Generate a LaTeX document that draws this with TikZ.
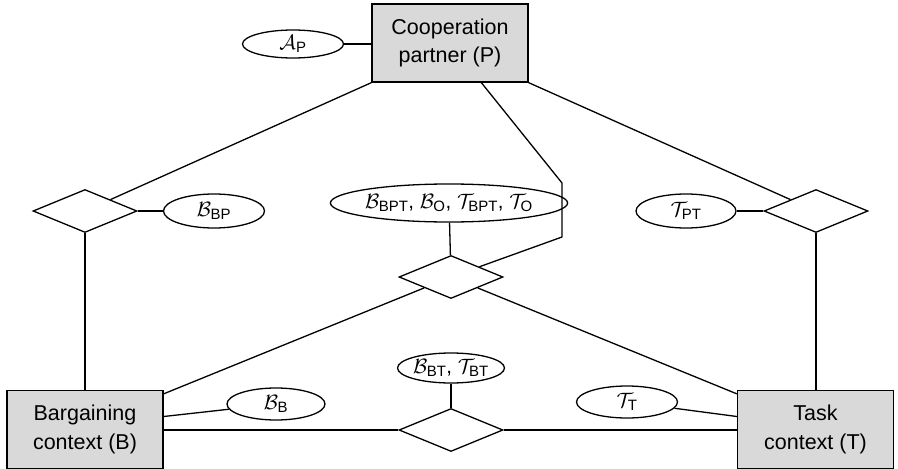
\documentclass[tikz,border=0pt]{standalone}
\usepackage{amsmath}
\usepackage{fontspec}
\setmainfont{Liberation Sans}
\usetikzlibrary{shapes.geometric,calc}
% upright sans index set at a fixed size
\newcommand\idx[1]{\text{\fontsize{15}{15}\selectfont #1}}
\begin{document}
\begin{tikzpicture}[x=1pt,y=-1pt,
    every node/.style={font=\fontsize{21.5}{28.5}\selectfont},
    entity/.style={draw, line width=1.3pt, fill=black!15, minimum width=156pt,
      minimum height=78pt, inner sep=0pt, align=center},
    attr/.style={draw, line width=1.3pt, ellipse, inner sep=0pt, minimum height=30pt,
      font=\fontsize{20.5}{23}\selectfont},
    rel/.style={draw, line width=1.3pt, diamond, inner sep=0pt, minimum width=104pt,
      minimum height=43pt},
    link/.style={line width=1.3pt, line join=round}]
  \useasboundingbox (0,0) rectangle (898,469);

  % entities
  \node[entity] (coop) at (450,43) {Cooperation\\partner (P)};
  \node[entity] (barg) at (85,429.5) {Bargaining\\context (B)};
  \node[entity] (task) at (815.5,429.5) {Task\\context (T)};

  % relationships
  \node[rel] (rbp) at (85,211) {};
  \node[rel] (rpt) at (816,211) {};
  \node[rel] (rbpt) at (451,277) {};
  \node[rel] (rbt) at (451,430) {};

  % attributes
  \node[attr, minimum width=101pt, minimum height=28pt] (ap) at (293,44) {$\mathcal{A}_{\idx{P}}$};
  \node[attr, minimum width=101pt, minimum height=34pt] (abp) at (214,211) {$\mathcal{B}_{\idx{BP}}$};
  \node[attr, minimum width=100pt, minimum height=34pt] (apt) at (686,211) {$\mathcal{T}_{\idx{PT}}$};
  \node[attr, minimum width=208pt, minimum height=38pt] (abpt) at (449,203)
    {$\mathcal{B}_{\idx{BPT}}$, $\mathcal{B}_{\idx{O}}$, $\mathcal{T}_{\idx{BPT}}$, $\mathcal{T}_{\idx{O}}$};
  \node[attr, minimum width=100pt] (abt) at (451,368) {$\mathcal{B}_{\idx{BT}}$, $\mathcal{T}_{\idx{BT}}$};
  \node[attr, minimum width=98pt, minimum height=32pt] (ab) at (276,404) {$\mathcal{B}_{\idx{B}}$};
  \node[attr, minimum width=101pt, minimum height=32pt] (at) at (627,402) {$\mathcal{T}_{\idx{T}}$};

  % bend points of the routed connector
  \coordinate (k1) at (562,183);
  \coordinate (k2) at (562,237);

  % connectors
  \draw[link] (ap) -- (coop.west |- ap);
  \draw[link] (coop.south west) -- (rbp);
  \draw[link] (coop.south east) -- (rpt);
  \draw[link] ($(coop.south west)+(110,0)$) -- (k1) -- (k2) -- (rbpt);
  \draw[link] (rbp) -- (abp);
  \draw[link] (apt) -- (rpt);
  \draw[link] (abpt) -- (rbpt);
  \draw[link] (rbp.south) -- (barg.north -| rbp.south);
  \draw[link] (rpt.south) -- (task.north -| rpt.south);
  \draw[link] ($(barg.north east)+(0,4)$) -- (rbpt);
  \draw[link] ($(task.north west)+(0,4)$) -- (rbpt);
  \draw[link] ($(barg.east)+(0,-13)$) -- (ab);
  \draw[link] ($(task.west)+(0,-13)$) -- (at);
  \draw[link] (barg.east |- rbt.west) -- (rbt.west);
  \draw[link] (rbt.east) -- (task.west |- rbt.east);
  \draw[link] (abt) -- (rbt);
\end{tikzpicture}
\end{document}
